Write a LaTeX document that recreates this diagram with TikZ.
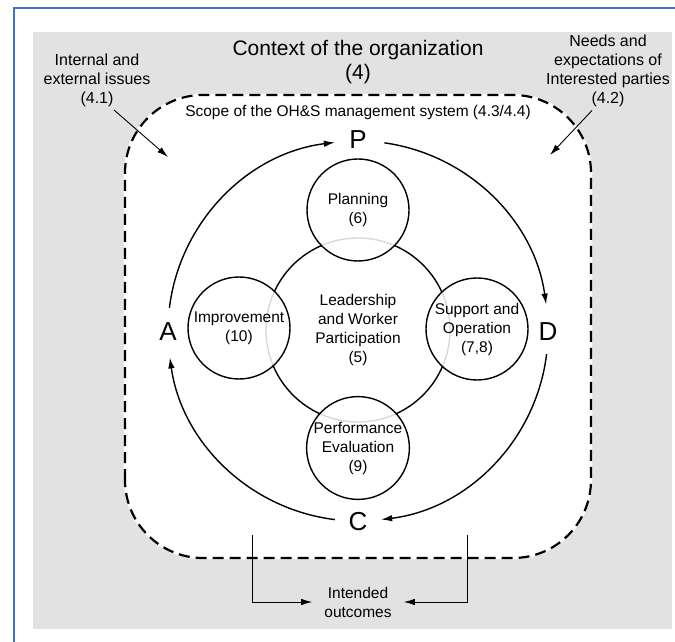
\documentclass[tikz,border=0pt]{standalone}
\usepackage{fontspec}
\setmainfont{Liberation Sans}
\usetikzlibrary{arrows.meta}
\definecolor{framecol}{RGB}{68,114,196}
\definecolor{ctxgray}{RGB}{226,226,226}
\begin{document}
\begin{tikzpicture}[x=1pt, y=1pt, >={Latex[length=11pt, width=6.5pt]},
    circ/.style={circle, draw, line width=1.4pt, minimum size=102pt, inner sep=0pt,
        fill=white, fill opacity=0.85, text opacity=1, align=center,
        font=\fontsize{15.5}{19}\selectfont},
    lbl/.style={align=center, font=\fontsize{16}{19}\selectfont},
    pdca/.style={font=\fontsize{26}{26}\selectfont},
    cycle/.style={line width=1.4pt, ->}]
    \useasboundingbox (0,0) rectangle (675,641);

    % 1. Khung ngoài và nền xám
    \draw[framecol, line width=2pt] (14,-20) -- (14,633) -- (700,633);
    \fill[ctxgray] (33,12) rectangle (672,609);

    % Phạm vi hệ thống (nét đứt)
    \draw[white, fill=white, line width=2.2pt, rounded corners=78pt] (125,83) rectangle (591,546);
    \draw[line width=2.2pt, dash pattern=on 11pt off 6pt, rounded corners=78pt] (125,83) rectangle (591,546);

    % 2. Nhãn bên ngoài
    \node[align=center, font=\fontsize{21}{24}\selectfont] (context) at (358,579) {Context of the organization\\(4)};
    \node[lbl] (internal) at (97,561) {Internal and\\external issues\\(4.1)};
    \node[lbl] (needs) at (608,570) {Needs and\\expectations of\\Interested parties\\(4.2)};
    \node[font=\fontsize{15.5}{19}\selectfont] (scope) at (358,529) {Scope of the OH\&S management system (4.3/4.4)};

    \coordinate (in41) at (168,484);
    \coordinate (in42) at (550,486);
    \draw[line width=0.9pt, ->] ([xshift=17pt]internal.south) -- (in41);
    \draw[line width=0.9pt, ->] ([xshift=-16pt]needs.south) -- (in42);

    % 3. Vòng tròn trung tâm và các vòng vệ tinh
    \coordinate (O) at (358,310);
    \node[circle, draw, line width=1.4pt, minimum size=184pt, inner sep=0pt, align=center,
        font=\fontsize{15.5}{19}\selectfont] (lead) at (358,311)
        {Leadership\\and Worker\\Participation\\(5)};
    \node[circ] (plan) at (358,431) {Planning\\(6)};
    \node[circ] (impr) at (239,313) {Improvement\\(10)};
    \node[circ] (supp) at (477,312) {Support and\\Operation\\(7,8)};
    \node[circ] (perf) at (358,193) {Performance\\Evaluation\\(9)};

    % 4. Chu trình P-D-C-A
    \node[pdca] (P) at (358,501) {P};
    \node[pdca] (D) at (548,309) {D};
    \node[pdca] (C) at (358,119) {C};
    \node[pdca] (A) at (168,309) {A};
    \draw[cycle] ([shift={(82:190)}]O) arc[start angle=82, end angle=8, radius=190];
    \draw[cycle] ([shift={(-7:190)}]O) arc[start angle=-7, end angle=-83, radius=190];
    \draw[cycle] ([shift={(-97:190)}]O) arc[start angle=-97, end angle=-172, radius=190];
    \draw[cycle] ([shift={(173:190)}]O) arc[start angle=173, end angle=97, radius=190];

    % 5. Kết quả dự kiến
    \node[align=center, inner xsep=12pt, font=\fontsize{15.5}{19}\selectfont] (outcomes) at (358,39) {Intended\\outcomes};
    \coordinate (outl) at (252,106);
    \coordinate (outr) at (467,106);
    \draw[line width=0.9pt, ->] (outl) |- (outcomes.west);
    \draw[line width=0.9pt, ->] (outr) |- (outcomes.east);
\end{tikzpicture}
\end{document}
